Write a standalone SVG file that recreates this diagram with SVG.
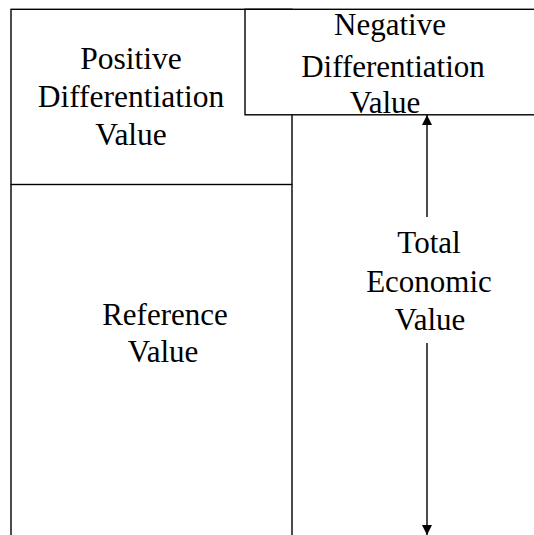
<svg xmlns="http://www.w3.org/2000/svg" width="534" height="535" viewBox="0 0 534 535">
<style>
.box{fill:#fff;stroke:#000;stroke-width:1.4}
.ln{stroke:#000;stroke-width:1.4;fill:none}
text{font-family:'Liberation Serif','Times New Roman',serif;font-size:31px;fill:#000;text-anchor:middle}
</style>
<defs>
<marker id="ah" viewBox="0 0 10 10" refX="10" refY="5" markerWidth="10" markerHeight="10" markerUnits="userSpaceOnUse" orient="auto">
<path d="M0,0 L10,5 L0,10 Z" fill="#000"/>
</marker>
</defs>
<rect width="534" height="535" fill="#fff"/>
<g id="reference">
<path class="ln" d="M11,184.5 V536 M292,184.5 V536"/>
<text x="165" y="325">Reference</text>
<text x="163" y="362">Value</text>
</g>
<g id="positive">
<rect class="box" x="11" y="9.3" width="281" height="175.2"/>
<text x="131" y="69" style="font-size:31.5px">Positive</text>
<text x="131" y="107" style="font-size:31.5px">Differentiation</text>
<text x="131" y="145" style="font-size:31.5px">Value</text>
</g>
<g id="negative">
<rect class="box" x="245" y="9.3" width="300" height="105.5"/>
<text x="390" y="35">Negative</text>
<text x="393" y="77">Differentiation</text>
<text x="385" y="113">Value</text>
</g>
<g id="connectors">
<line class="ln" x1="427" y1="217" x2="427" y2="115" marker-end="url(#ah)"/>
<line class="ln" x1="427" y1="343" x2="427" y2="535" marker-end="url(#ah)"/>
</g>
<g id="total">
<text x="429" y="253">Total</text>
<text x="429" y="292">Economic</text>
<text x="430" y="330">Value</text>
</g>
</svg>
